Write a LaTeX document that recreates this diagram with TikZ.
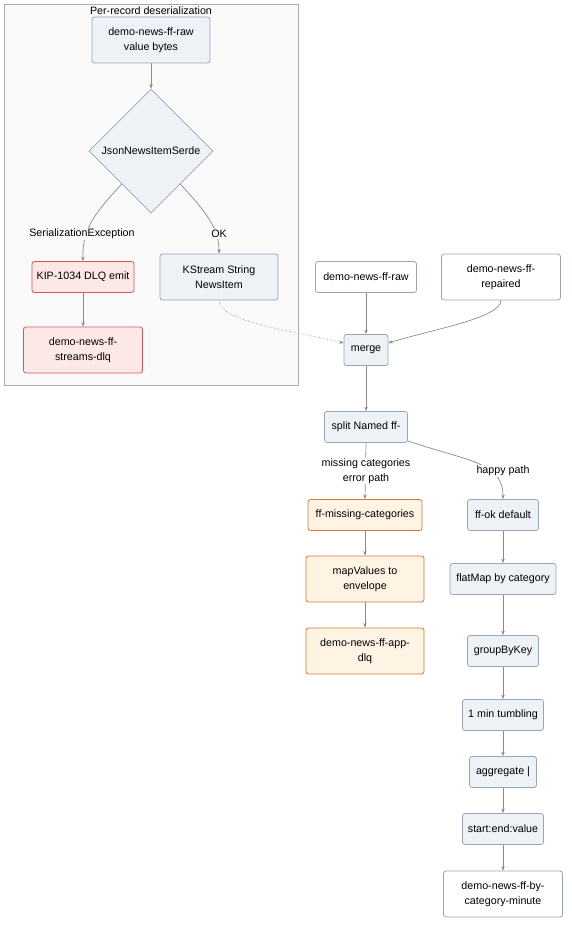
\documentclass[tikz,border=0pt]{standalone}
\usepackage{fontspec}
\setmainfont{Liberation Sans}
\usetikzlibrary{shapes.geometric,arrows.meta,calc}
\definecolor{bluefill}{HTML}{EEF2F7}
\definecolor{blueline}{HTML}{9AA5B4}
\definecolor{redfill}{HTML}{FDE8E8}
\definecolor{redline}{HTML}{D0585A}
\definecolor{orfill}{HTML}{FFF4E4}
\definecolor{orline}{HTML}{D9773A}
\definecolor{edgegray}{HTML}{8A8A8A}
\definecolor{clfill}{HTML}{FAFAFA}
\definecolor{clline}{HTML}{ABABAB}
\tikzset{
  box/.style={draw=blueline, rounded corners=2.5pt, align=center, inner sep=0pt, line width=0.8pt, minimum height=31pt},
  tall/.style={minimum height=46pt},
  bluebox/.style={box, fill=bluefill},
  whitebox/.style={box, fill=white},
  redbox/.style={box, fill=redfill, draw=redline},
  orbox/.style={box, fill=orfill, draw=orline},
  arr/.style={draw=edgegray, line width=0.7pt, -{Stealth[length=4.5pt,width=3.5pt]}},
  lbl/.style={fill=white, inner sep=1pt, align=center},
}
\begin{document}
\begin{tikzpicture}[x=1pt,y=-1pt, font=\fontsize{10.7}{15}\selectfont]
\useasboundingbox (0,0) rectangle (572,931);
% cluster
\draw[draw=clline, fill=clfill, line width=0.7pt] (4,4) rectangle (298,385);
\node[inner sep=0pt] (cltitle) at (151,11) {Per-record deserialization};

% cluster nodes
\node[bluebox, tall, minimum width=118pt] (rv) at (151,40) {demo-news-ff-raw\\value bytes};
\node[diamond, aspect=1, draw=blueline, fill=bluefill, line width=0.8pt, minimum width=124pt, minimum height=124pt, inner sep=0pt] (dia) at (151,151) {JsonNewsItemSerde};
\node[redbox, minimum width=102pt] (kip) at (83,277) {KIP-1034 DLQ emit};
\node[redbox, tall, minimum width=119pt] (sdlq) at (83,350) {demo-news-ff-\\streams-dlq};
\node[bluebox, tall, minimum width=118pt] (ks) at (219,277) {KStream String\\NewsItem};

% right top
\node[whitebox, minimum width=101pt] (raw) at (366,277) {demo-news-ff-raw};
\node[whitebox, tall, minimum width=119pt] (rep) at (501,277) {demo-news-ff-\\repaired};
\node[bluebox, minimum width=44pt] (merge) at (366,350) {merge};
\node[bluebox, minimum width=83pt] (split) at (366,427) {split Named ff-};

% error path
\node[orbox, minimum width=114pt] (miss) at (365,515) {ff-missing-categories};
\node[orbox, tall, minimum width=118pt] (mapv) at (365,579) {mapValues to\\envelope};
\node[orbox, tall, minimum width=118pt] (adlq) at (365,651) {demo-news-ff-app-\\dlq};

% happy path
\node[bluebox, minimum width=71pt] (ok) at (503,515) {ff-ok default};
\node[bluebox, minimum width=106pt] (flat) at (503,579) {flatMap by category};
\node[bluebox, minimum width=71pt] (grp) at (503,651) {groupByKey};
\node[bluebox, minimum width=81pt] (tumb) at (503,715) {1 min tumbling};
\node[bluebox, minimum width=67pt] (agg) at (503,772) {aggregate |};
\node[bluebox, minimum width=81pt] (sev) at (503,829) {start:end:value};
\node[whitebox, tall, minimum width=119pt] (out) at (503,894) {demo-news-ff-by-\\category-minute};

% edges in cluster
\draw[arr] (rv) -- (dia);
\coordinate (dsw) at ($(dia.west)!0.53!(dia.south)$);
\coordinate (dse) at ($(dia.east)!0.53!(dia.south)$);
\draw[arr] (dsw) .. controls (96,212) and (82,228) .. (kip.north);
\draw[arr] (dse) .. controls (206,212) and (219,228) .. (ks.north);
\node[lbl, fill=clfill] (lse) at (82,234) {SerializationException};
\node[lbl, fill=clfill] (lok) at (219,234) {OK};
\draw[arr] (kip) -- (sdlq);

% merge edges
\coordinate (mw) at ($(merge.west)+(0,-7)$);
\coordinate (me) at ($(merge.east)+(0,-7)$);
\draw[arr, dotted] (ks.south) .. controls (219,322) and (290,330) .. (mw);
\draw[arr] (rep.south) .. controls (501,318) and (430,330) .. (me);
\draw[arr] (raw) -- (merge);
\draw[arr] (merge) -- (split);

% split edges
\draw[arr] (split.south) -- (miss.north);
\node[lbl] (lmiss) at (366,471) {missing categories\\error path};
\coordinate (ssw) at ($(split.south east)+(0,-2)$);
\draw[arr] (ssw) .. controls (470,462) and (503,462) .. (ok.north);
\node[lbl] (lhap) at (503,471) {happy path};

\draw[arr] (miss) -- (mapv);
\draw[arr] (mapv) -- (adlq);
\draw[arr] (ok) -- (flat);
\draw[arr] (flat) -- (grp);
\draw[arr] (grp) -- (tumb);
\draw[arr] (tumb) -- (agg);
\draw[arr] (agg) -- (sev);
\draw[arr] (sev) -- (out);
\end{tikzpicture}
\end{document}
